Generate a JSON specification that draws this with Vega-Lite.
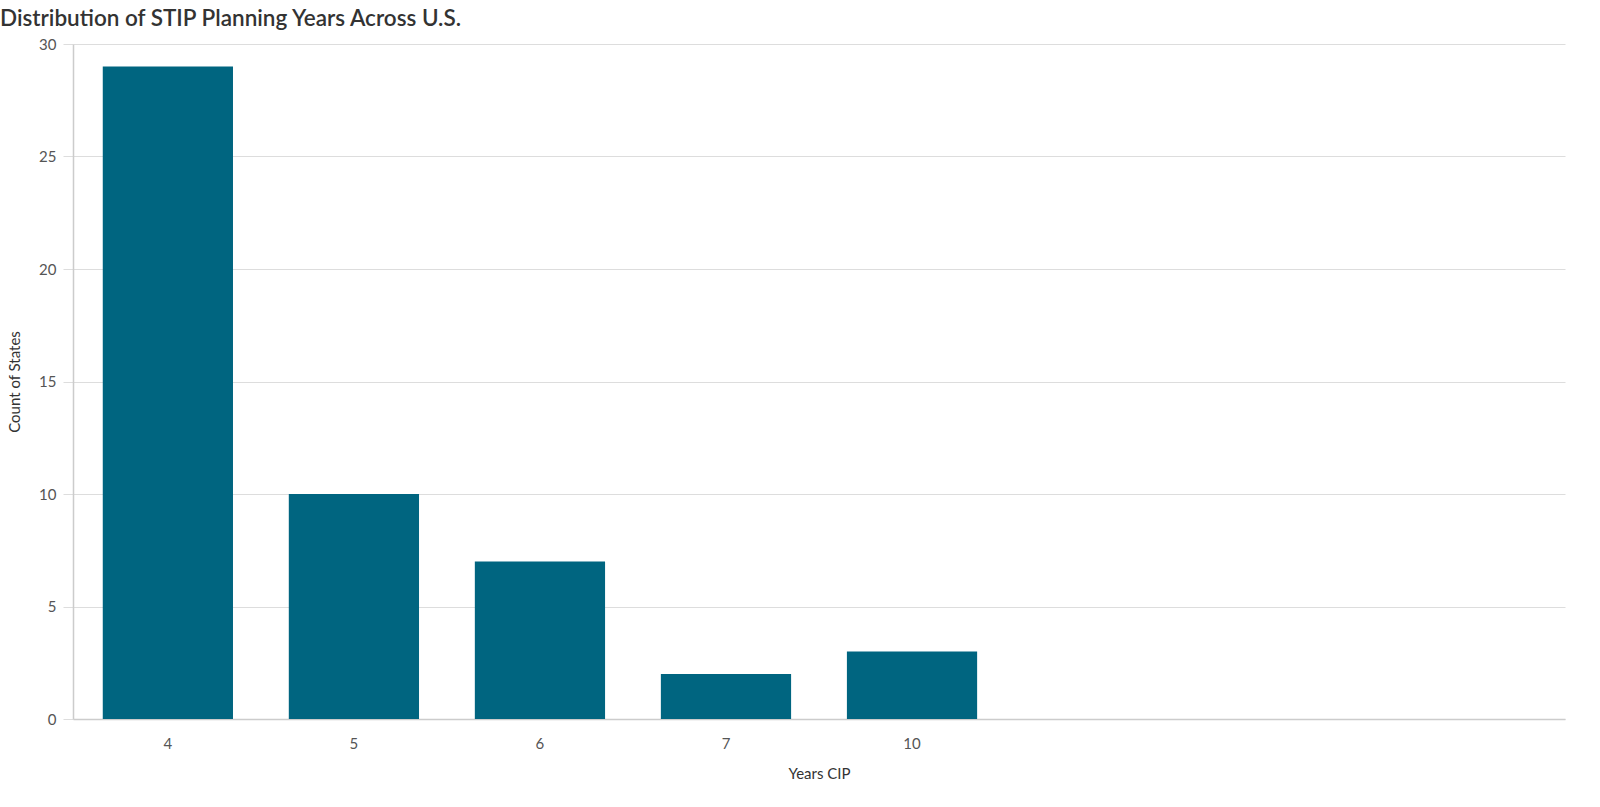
{
  "$schema": "https://vega.github.io/schema/vega-lite/v6.json",
  "autosize": "none",
  "padding": {"left": 73, "top": 44, "right": 35, "bottom": 88},
  "width": 1492,
  "height": 675,
  "title": {
    "text": "Distribution of STIP Planning Years Across U.S.",
    "anchor": "start",
    "frame": "group",
    "dx": -73,
    "offset": 7,
    "fontSize": 22.5,
    "fontWeight": 600,
    "color": "#333333",
    "font": "Lato"
  },
  "data": {
    "values": [
      {"years": "4", "count": 29},
      {"years": "5", "count": 10},
      {"years": "6", "count": 7},
      {"years": "7", "count": 2},
      {"years": "10", "count": 3}
    ]
  },
  "mark": {"type": "bar", "color": "#006580"},
  "encoding": {
    "x": {
      "field": "years",
      "type": "ordinal",
      "title": "Years CIP",
      "scale": {
        "domain": ["4", "5", "6", "7", "10", "_a", "_b", "_c"],
        "paddingInner": 0.3,
        "paddingOuter": 0.16
      },
      "axis": {
        "labelAngle": 0,
        "ticks": false,
        "labelPadding": 17,
        "titlePadding": 15,
        "labelExpr": "indexof(datum.value, '_') == 0 ? '' : datum.value"
      }
    },
    "y": {
      "field": "count",
      "type": "quantitative",
      "title": "Count of States",
      "scale": {"domain": [0, 30]},
      "axis": {
        "values": [0, 5, 10, 15, 20, 25, 30],
        "tickSize": 10,
        "labelPadding": 7,
        "titlePadding": 16
      }
    }
  },
  "config": {
    "font": "Lato",
    "view": {"stroke": null},
    "axis": {
      "labelFont": "Lato",
      "titleFont": "Lato",
      "labelFontSize": 15,
      "titleFontSize": 15,
      "titleFontWeight": "normal",
      "labelColor": "#555555",
      "titleColor": "#333333",
      "domainColor": "#cccccc",
      "tickColor": "#dddddd",
      "gridColor": "#dddddd",
      "domainWidth": 1.5
    }
  }
}
